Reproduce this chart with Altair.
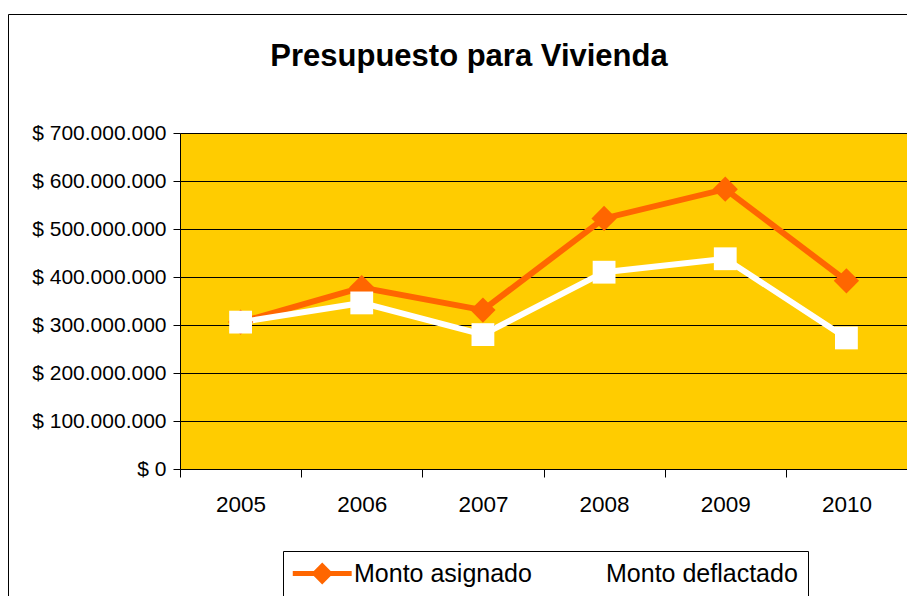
import altair as alt
import pandas as pd

title_text = "Presupuesto para Vivienda"
years = ["2005", "2006", "2007", "2008", "2009", "2010"]
series_names = ["Monto asignado", "Monto deflactado"]
monto_asignado = [306e6, 378e6, 331e6, 522e6, 583e6, 392e6]
monto_deflactado = [306e6, 346e6, 280e6, 410e6, 438e6, 273e6]
y_ticks = [0, 100e6, 200e6, 300e6, 400e6, 500e6, 600e6, 700e6]

ORANGE = "#FF6600"
WHITE = "#FFFFFF"
FONT = "Liberation Sans"

rows = []
for name, vals in zip(series_names, [monto_asignado, monto_deflactado]):
    for yr, v in zip(years, vals):
        rows.append({"Año": yr, "Serie": name, "Monto": v})
df = pd.DataFrame(rows)

x_enc = alt.X(
    "Año:N",
    sort=years,
    bandPosition=0.5,
    scale=alt.Scale(type="band", paddingInner=0, paddingOuter=0),
    axis=alt.Axis(
        title=None, labelAngle=0, tickBand="extent", grid=False,
        domainColor="black", tickColor="black", tickSize=8,
        labelFontSize=22.5, labelFont=FONT, labelColor="black", labelPadding=16,
    ),
)
y_enc = alt.Y(
    "Monto:Q",
    scale=alt.Scale(domain=[0, 700e6], nice=False),
    axis=alt.Axis(
        title=None, values=y_ticks, grid=True, gridColor="black", gridWidth=1,
        domainColor="black", tickColor="black", tickSize=7, labelPadding=7,
        labelFontSize=21, labelFont=FONT, labelColor="black",
        labelExpr="'$ ' + replace(replace(format(datum.value, ','), ',', '.'), ',', '.')",
    ),
)

# legend symbol: a line with a diamond in the middle
legend_symbol = ("M-1.73,0L6.27,0M2.27,-1L3.27,0L2.27,1L1.27,0Z"
                 "M2.27,-0.5L2.77,0L2.27,0.5L1.77,0Z")

lines = alt.Chart(df).mark_line(strokeWidth=6).encode(
    x=x_enc,
    y=y_enc,
    color=alt.Color(
        "Serie:N",
        scale=alt.Scale(domain=series_names, range=[ORANGE, WHITE]),
        legend=alt.Legend(
            title=None, orient="none", direction="horizontal",
            legendX=103, legendY=418, padding=10,
            strokeColor="black", fillColor="white",
            symbolType=legend_symbol, symbolSize=217, symbolStrokeWidth=5,
            labelFont=FONT, labelFontSize=25, labelColor="black",
            labelOffset=36, columnPadding=2, gridAlign="none", labelLimit=400,
        ),
    ),
    detail="Serie:N",
)

points = alt.Chart(df).mark_point(filled=True, opacity=1).encode(
    x=x_enc,
    y=y_enc,
    color=alt.Color("Serie:N", scale=alt.Scale(domain=series_names, range=[ORANGE, WHITE]), legend=None),
    shape=alt.Shape("Serie:N", scale=alt.Scale(domain=series_names, range=["diamond", "square"]), legend=None),
    size=alt.Size("Serie:N", scale=alt.Scale(domain=series_names, range=[640, 520]), legend=None),
    order=alt.Order("Serie:N"),
)

title_mark = alt.Chart(alt.Data(values=[{"t": title_text}])).mark_text(
    font=FONT, fontSize=31, fontWeight="bold", color="black",
    align="center", baseline="alphabetic",
).encode(text="t:N", x=alt.value(289), y=alt.value(-67))

border = alt.Chart(alt.Data(values=[{"a": 1}])).mark_rect(
    fillOpacity=0, stroke="black", strokeWidth=1,
).encode(x=alt.value(-171.5), x2=alt.value(900), y=alt.value(-118.5), y2=alt.value(600))

chart = alt.layer(border, title_mark, lines, points).resolve_scale(
    color="independent", shape="independent", size="independent"
).properties(
    width=727, height=336,
    autosize=alt.AutoSizeParams(type="none"),
    padding={"left": 172, "top": 125, "right": 0, "bottom": 135},
    background="white",
).configure_view(fill="#FFCC00", stroke=None)

chart.save("out.html", embed_options={"renderer": "svg", "actions": False})
